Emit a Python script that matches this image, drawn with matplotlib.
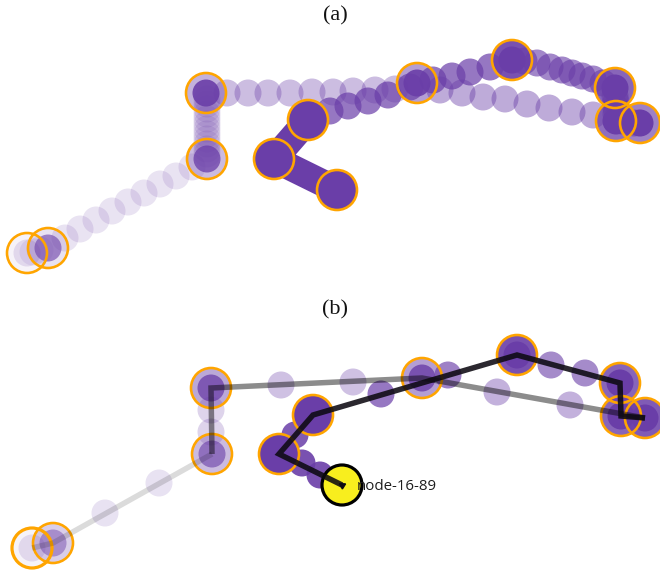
import matplotlib
matplotlib.use("Agg")
import matplotlib.pyplot as plt
from matplotlib.patches import Circle

# ---------------------------------------------------------------
# Walk of one node through the layout (layout pixels, y downwards)
# ---------------------------------------------------------------
stop_x = [27, 48, 207, 206, 417, 640, 616, 615, 512, 308, 274, 337]
stop_y = [253, 248, 159, 93, 83, 123, 121, 88, 60, 120, 159, 190]
# opacity of the outer disk and of the inner core at every stop
stop_fill_a = [0.06, 0.15, 0.35, 0.40, 0.50, 0.65, 0.75, 0.80, 0.90, 1.0, 1.0, 1.0]
stop_core_a = [0.15, 0.60, 0.75, 0.90, 0.90, 1.0, 1.0, 1.0, 1.0, 1.0, 1.0, 1.0]
stop_fill_b = [0.06, 0.25, 0.35, 0.45, 0.50, 0.85, 0.80, 0.80, 0.90, 1.0, 1.0, 1.0]
stop_core_b = [0.15, 0.45, 0.60, 0.75, 0.80, 1.0, 1.0, 1.0, 1.0, 1.0, 1.0, 1.0]

# animation frames of panel (a): x, y, opacity
frame_x = [33, 40,
           65, 80, 96, 112, 128, 144, 160, 176, 192,
           207, 207, 207, 207, 207, 207, 207, 207, 207, 207, 207, 207,
           227, 248, 268, 290, 312, 333, 353, 375, 395,
           440, 462, 483, 505, 527, 549, 572, 593,
           634, 628, 622, 616, 616, 616, 615,
           603, 593, 582, 572, 562, 550, 537, 524,
           490, 470, 452, 433, 410, 388, 368, 348, 330]
frame_y = [252, 250,
           238, 229, 220, 211, 202, 193, 184, 176, 167,
           154, 149, 144, 139, 134, 129, 124, 119, 114, 109, 104, 99,
           93, 93, 93, 93, 92, 92, 91, 90, 89,
           90, 93, 97, 99, 104, 108, 112, 115,
           123, 122, 121, 114, 108, 102, 96,
           83, 79, 76, 73, 70, 67, 63, 61,
           67, 72, 76, 80, 87, 95, 101, 106, 111]
frame_alpha = [0.10, 0.10,
               0.14, 0.14, 0.14, 0.14, 0.14, 0.14, 0.14, 0.14, 0.14,
               0.15, 0.15, 0.15, 0.15, 0.15, 0.15, 0.15, 0.15, 0.15, 0.15, 0.15, 0.15,
               0.34, 0.34, 0.34, 0.34, 0.34, 0.34, 0.34, 0.34, 0.34,
               0.43, 0.43, 0.43, 0.43, 0.43, 0.43, 0.43, 0.43,
               0.58, 0.58, 0.58, 0.58, 0.58, 0.58, 0.58,
               0.62, 0.62, 0.62, 0.62, 0.62, 0.62, 0.62, 0.62,
               0.70, 0.70, 0.70, 0.70, 0.70, 0.70, 0.70, 0.70, 0.70]

# sampled positions of panel (b): x, y, opacity
sample_x = [100, 154, 206, 206, 276, 348, 492, 565, 546, 580, 443, 376, 290, 297, 315]
sample_y = [218, 188, 137, 115, 90, 87, 97, 110, 70, 78, 80, 99, 140, 168, 180]
sample_alpha = [0.15, 0.15, 0.22, 0.22, 0.32, 0.32, 0.40, 0.40,
                0.60, 0.60, 0.65, 0.70, 0.85, 0.90, 0.90]

# path pieces of panel (b): stop indices and their stroke
path_pieces = [([0, 1, 2], "#000000", 0.14),
               ([2, 3, 4, 5], "#000000", 0.45),
               ([5, 6, 7, 8, 9, 10, 11], "#0d0a12", 0.88)]

node_label = "node-16-89"

PURPLE = "#6a3ea8"
ORANGE = "#ffa500"
YELLOW = "#f8ee1e"
R_NODE = 20
R_CORE = 13.5
PX = 72 / 100  # points per pixel

fig = plt.figure(figsize=(6.6, 5.73), dpi=100)
ax_a = fig.add_axes([0, 1 - 290 / 573, 1, 290 / 573])
ax_b = fig.add_axes([0, 0, 1, 283 / 573])
ax_a.set_xlim(0, 660)
ax_a.set_ylim(290, 0)
ax_b.set_xlim(-5, 655)
ax_b.set_ylim(278, -5)
for ax in (ax_a, ax_b):
    ax.set_axis_off()


def draw_stop(ax, i, fill_a, core_a, edge_w=2.6):
    x, y = stop_x[i], stop_y[i]
    ax.add_patch(Circle((x, y), R_NODE, facecolor=PURPLE, alpha=fill_a[i],
                        edgecolor="none", zorder=5))
    ax.add_patch(Circle((x, y), R_CORE, facecolor=PURPLE, alpha=core_a[i],
                        edgecolor="none", zorder=5))
    ax.add_patch(Circle((x, y), R_NODE, facecolor="none", edgecolor=ORANGE,
                        lw=edge_w * PX, zorder=6))


# ---------------- panel (a): animated trail ----------------
for x, y, a in zip(frame_x, frame_y, frame_alpha):
    ax_a.add_patch(Circle((x, y), R_CORE, facecolor=PURPLE, alpha=a,
                          edgecolor="none", zorder=2))
# final moves drawn as a solid stroke of dense frames
ax_a.plot(stop_x[9:], stop_y[9:], color=PURPLE, lw=27 * PX,
          solid_capstyle="round", solid_joinstyle="round", zorder=3)
for i in range(len(stop_x)):
    draw_stop(ax_a, i, stop_fill_a, stop_core_a)

# ---------------- panel (b): sampled trail with path ----------------
for x, y, a in zip(sample_x, sample_y, sample_alpha):
    ax_b.add_patch(Circle((x, y), R_CORE, facecolor=PURPLE, alpha=a,
                          edgecolor="none", zorder=2))
for i in range(len(stop_x) - 1):
    draw_stop(ax_b, i, stop_fill_b, stop_core_b, edge_w=3.2 if i == 0 else 2.6)
last = len(stop_x) - 1
ax_b.add_patch(Circle((stop_x[last], stop_y[last]), R_NODE, facecolor=YELLOW,
                      edgecolor="black", lw=3.2 * PX, zorder=7))
for idx, col, a in path_pieces:
    ax_b.plot([stop_x[k] for k in idx], [stop_y[k] for k in idx], color=col,
              alpha=a, lw=5.5 * PX, solid_joinstyle="miter", solid_capstyle="butt",
              zorder=8)
ax_b.plot(stop_x[last], stop_y[last], marker=(3, 0, -62), ms=5, color="#0d0a12",
          zorder=9)
ax_b.text(stop_x[last] + 15, stop_y[last] + 1, node_label, fontsize=10.8,
          family=["Open Sans", "DejaVu Sans"], color="#1e1e1e", va="center",
          ha="left", zorder=10)

# panel captions
ax_a.text(335, 16, "(a)", fontsize=16, family=["Liberation Serif", "DejaVu Serif"],
          ha="center", va="center", color="#111111")
ax_b.text(330, 15, "(b)", fontsize=16, family=["Liberation Serif", "DejaVu Serif"],
          ha="center", va="center", color="#111111")

fig.savefig("out.png", dpi=100)
